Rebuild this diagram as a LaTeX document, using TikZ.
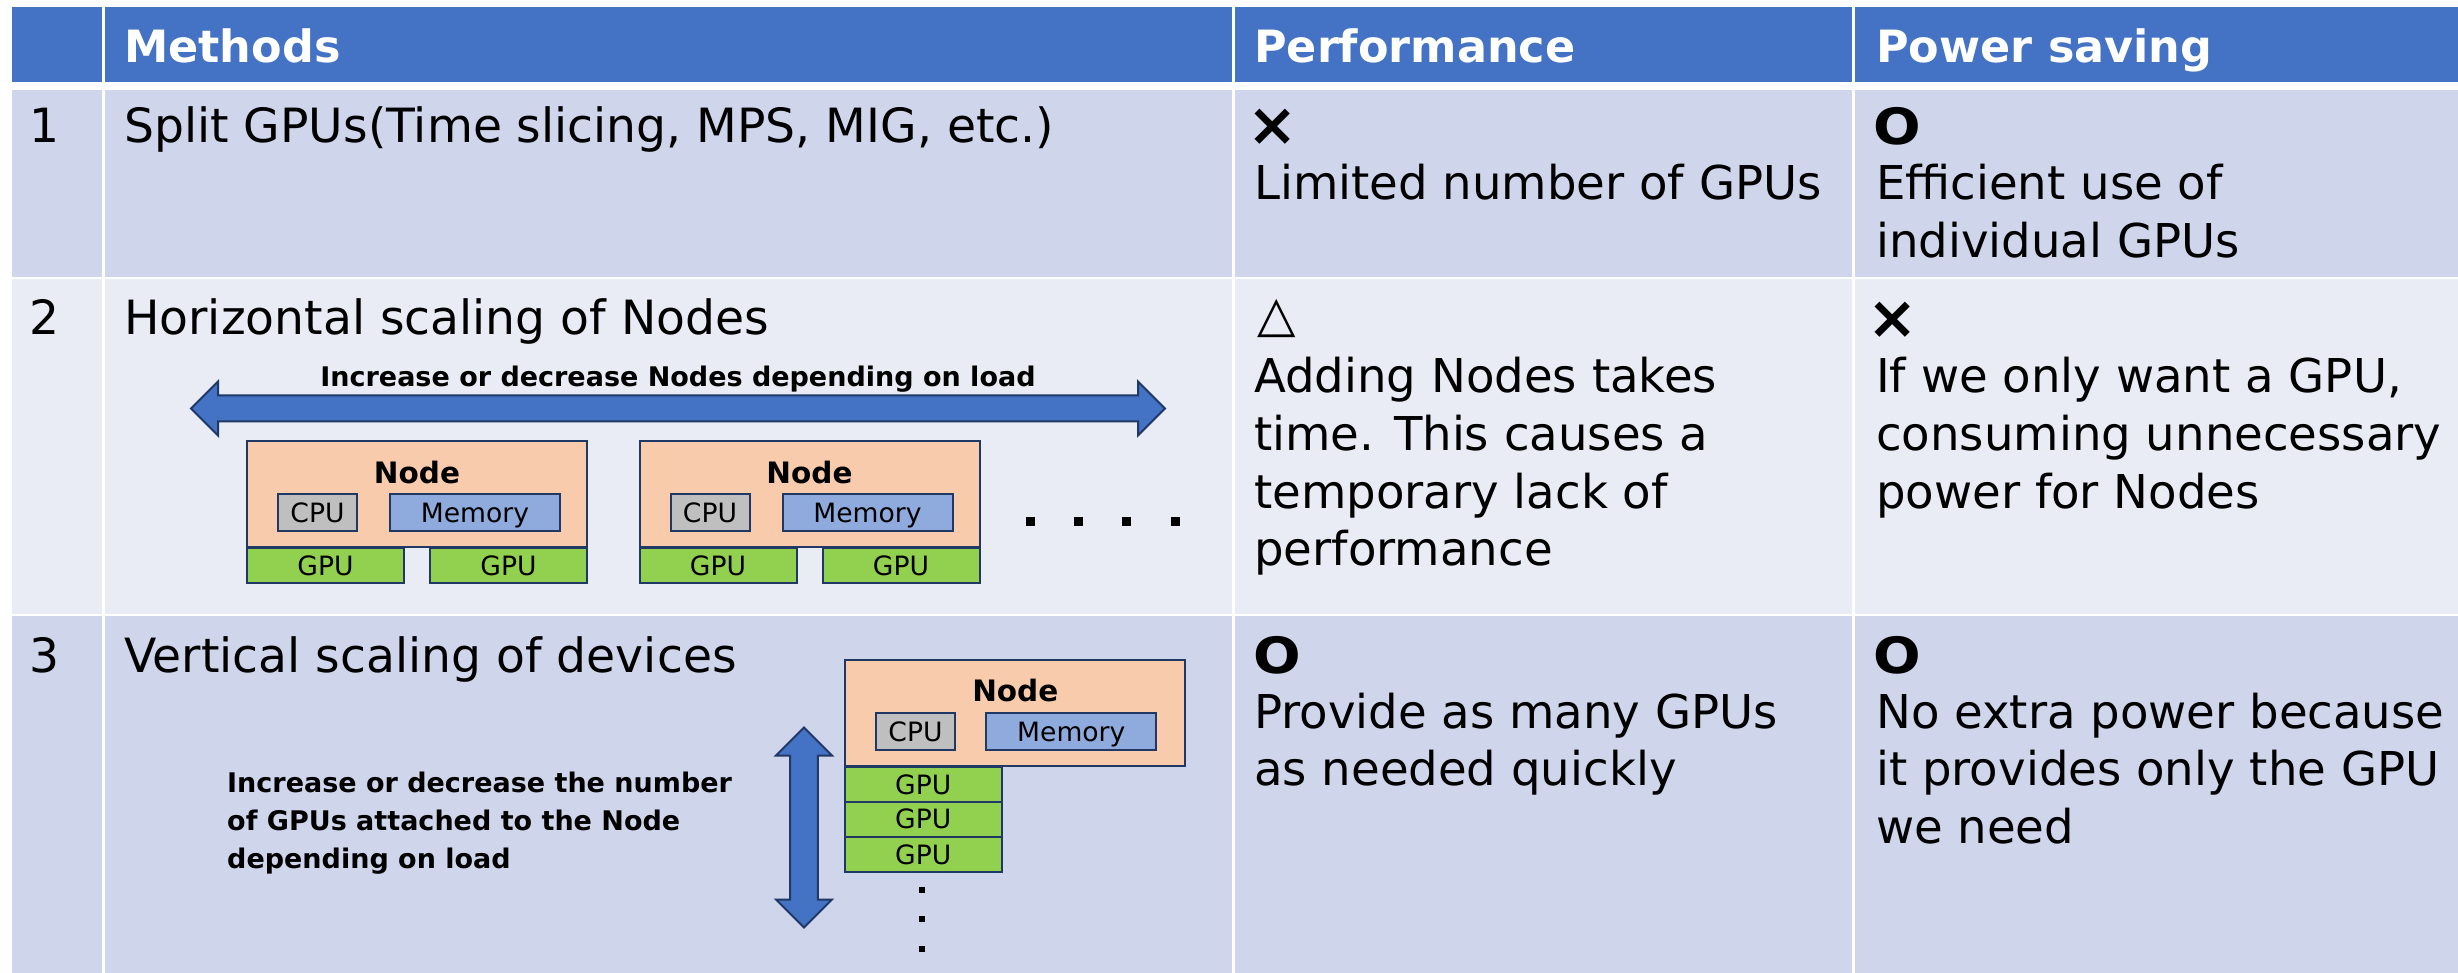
\documentclass[tikz,border=0pt]{standalone}
\usepackage{fontspec}
\setmainfont{DejaVu Sans}
\usetikzlibrary{shapes.arrows}

\definecolor{hdrblue}{HTML}{4472C4}
\definecolor{banddark}{HTML}{CFD5EA}
\definecolor{bandlight}{HTML}{E9EBF5}
\definecolor{navy}{HTML}{1F3864}
\definecolor{nodefill}{HTML}{F8CBAD}
\definecolor{cpufill}{HTML}{BFBFBF}
\definecolor{memfill}{HTML}{8FAADC}
\definecolor{gpufill}{HTML}{92D050}

\begin{document}
\begin{tikzpicture}[x=1pt,y=-1pt,
  body/.style={anchor=base west, inner sep=0pt, font=\fontsize{46.6}{57.5}\selectfont},
  title/.style={anchor=base west, inner sep=0pt, font=\fontsize{47.2}{57.5}\selectfont},
  head/.style={anchor=base west, inner sep=0pt, text=white, font=\bfseries\fontsize{44.5}{50}\selectfont},
  symb/.style={anchor=center, inner sep=0pt},
  part/.style={draw=navy, line width=2pt, inner sep=0pt, text height=19.4pt, text depth=0pt,
               font=\fontsize{26.6}{30}\selectfont},
  hostbox/.style={part, fill=nodefill, minimum width=340pt, minimum height=106pt},
  cpubox/.style={part, fill=cpufill, minimum width=79pt, minimum height=37pt},
  membox/.style={part, fill=memfill, minimum width=170pt, minimum height=37pt},
  gpubox/.style={part, fill=gpufill, minimum width=157pt, minimum height=35pt},
  hosttitle/.style={anchor=base, inner sep=0pt, font=\bfseries\fontsize{29.5}{32}\selectfont},
  note/.style={anchor=base west, inner sep=0pt, font=\bfseries\fontsize{27}{38}\selectfont},
  scalearrow/.style={double arrow, double arrow tip angle=90, fill=hdrblue, draw=navy,
                     line width=2pt, inner sep=0pt, text depth=0pt},
  dotsq/.style={fill=black, inner sep=0pt, minimum size=#1},
  dotsq/.default=9pt
]
\useasboundingbox (0,0) rectangle (2458,973);
\fill[white] (0,0) rectangle (2458,973);

% table bands
\fill[hdrblue]   (12,7)   rectangle (2458,82);
\fill[banddark]  (12,90)  rectangle (2458,277);
\fill[bandlight] (12,279) rectangle (2458,614);
\fill[banddark]  (12,616) rectangle (2458,973);
\foreach \cx in {103.5,1233.5,1853.5}
  \draw[white, line width=3pt] (\cx,7) -- (\cx,973);

% header
\node[head] (hMethods) at (124,63)  {Methods};
\node[head] (hPerf)    at (1254,63) {Performance};
\node[head] (hPower)   at (1876,63) {Power saving};

% row 1
\node[title] (n1) at (29,143) {1};
\node[title] (m1) at (124,143) {Split GPUs(Time slicing, MPS, MIG, etc.)};
\node[symb, font=\bfseries\fontsize{60}{60}\selectfont] (p1s) at (1272.5,127.5) {×};
\node[body] (p1a) at (1254,200) {Limited number of GPUs};
\node[symb, font=\bfseries\fontsize{50}{50}\selectfont, xscale=1.12] (w1s) at (1897.5,126) {O};
\node[body] (w1a) at (1876,200) {Efficient use of};
\node[body] (w1b) at (1876,258) {individual GPUs};

% row 2
\node[title] (n2) at (29,335) {2};
\node[title] (m2) at (124,335) {Horizontal scaling of Nodes};
\node[symb, font=\fontsize{50}{50}\selectfont] (p2s) at (1276.7,318.5) {△};
\node[body] (p2a) at (1254,392) {Adding Nodes takes};
\node[body] (p2b) at (1254,450) {time. This causes a};
\node[body] (p2c) at (1254,508) {temporary lack of};
\node[body] (p2d) at (1254,565) {performance};
\node[symb, font=\bfseries\fontsize{60}{60}\selectfont] (w2s) at (1893,320.5) {×};
\node[body] (w2a) at (1876,392) {If we only want a GPU,};
\node[body] (w2b) at (1876,450) {consuming unnecessary};
\node[body] (w2c) at (1876,508) {power for Nodes};

% row 2 sketch: nodes added side by side
\node[scalearrow, text height=24pt, minimum height=974pt, double arrow head extend=14pt]
  (hscale) at (678,408.5) {};
\node[note, anchor=base] (hnote) at (678,387) {Increase or decrease Nodes depending on load};

\node[gpubox] (gA1) at (325.5,565.5) {GPU};
\node[gpubox] (gA2) at (508.5,565.5) {GPU};
\node[hostbox] (hostA) at (417,494) {};
\node[hosttitle] (tA) at (417,483) {Node};
\node[cpubox] (cA) at (317.5,512.5) {CPU};
\node[membox] (mA) at (475,512.5) {Memory};

\node[gpubox] (gB1) at (718,565.5) {GPU};
\node[gpubox] (gB2) at (901,565.5) {GPU};
\node[hostbox] (hostB) at (809.5,494) {};
\node[hosttitle] (tB) at (809.5,483) {Node};
\node[cpubox] (cB) at (710,512.5) {CPU};
\node[membox] (mB) at (867.5,512.5) {Memory};

\foreach \dx [count=\i] in {1030.2,1078.2,1126.5,1175.2}
  \node[dotsq] (hd\i) at (\dx,521.5) {};

% row 3
\node[title] (n3) at (29,672) {3};
\node[title] (m3) at (124,672) {Vertical scaling of devices};
\node[symb, font=\bfseries\fontsize{50}{50}\selectfont, xscale=1.12] (p3s) at (1277,655) {O};
\node[body] (p3a) at (1254,728) {Provide as many GPUs};
\node[body] (p3b) at (1254,785) {as needed quickly};
\node[symb, font=\bfseries\fontsize{50}{50}\selectfont, xscale=1.12] (w3s) at (1897.5,655) {O};
\node[body] (w3a) at (1876,728) {No extra power because};
\node[body] (w3b) at (1876,785) {it provides only the GPU};
\node[body] (w3c) at (1876,843) {we need};

% row 3 sketch: GPUs stacked onto one node
\node[note] (vn1) at (227,792) {Increase or decrease the number};
\node[note] (vn2) at (227,830) {of GPUs attached to the Node};
\node[note] (vn3) at (227,868) {depending on load};

\node[scalearrow, rotate=90, text height=25.6pt, minimum height=200pt, double arrow head extend=14.2pt]
  (vscale) at (804,827.5) {};

\node[gpubox] (gC1) at (923.3,784.5) {GPU};
\node[gpubox] (gC2) at (923.3,819.2) {GPU};
\node[gpubox] (gC3) at (923.3,854.7) {GPU};
\node[hostbox] (hostC) at (1015.3,713.3) {};
\node[hosttitle] (tC) at (1015.3,701.7) {Node};
\node[cpubox] (cC) at (915.5,731.3) {CPU};
\node[membox] (mC) at (1071.3,731.3) {Memory};

\foreach \dy [count=\i] in {889.5,919,948.5}
  \node[dotsq=6pt] (vd\i) at (922,\dy) {};
\end{tikzpicture}
\end{document}
